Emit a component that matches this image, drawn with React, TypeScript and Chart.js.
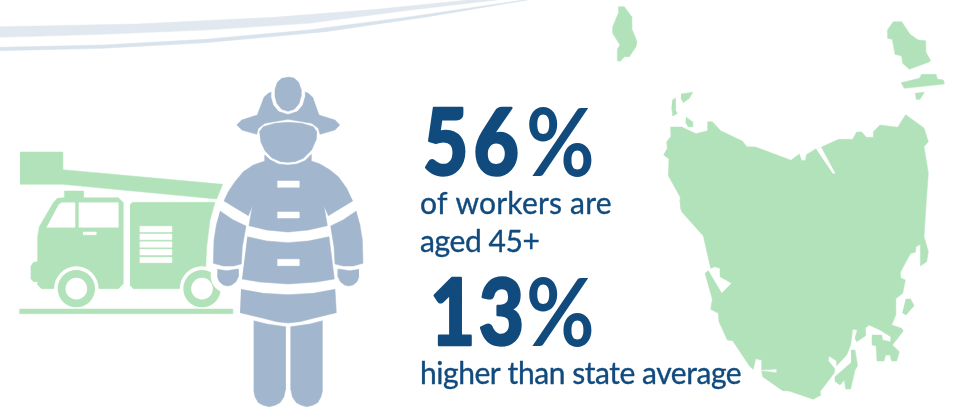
import React, { useEffect, useRef } from "react";
import { Chart, registerables } from "chart.js";

Chart.register(...registerables);

const GREEN = "#b2e2ba";
const STEEL = "#a2b7cd";
const NAVY = "#114b7e";
const WHITE = "#ffffff";

const LEFT = [0, 180];
const swooshUpper = [0,80, 410,72, 820,52, 1130,28, 1405,0, 1490,0, 1232,30, 925,70, 616,90, 308,103, 0,112];
const swooshLower = [0,142, 308,135, 616,118, 925,90, 1232,50, 1572,0, 1582,0, 1284,50, 976,95, 616,128, 308,145, 0,152];

const boom = [60,276, 188,276, 188,329, 668,373, 650,417, 188,373, 60,373];
const cab = [92,620, 100,607, 113,605, 113,530, 118,500, 160,428, 172,415, 193,413, 193,393, 250,393, 250,413, 355,413, 369,427, 369,672, 355,686, 125,686, 113,675, 113,665, 100,665, 92,655];
const cabWindowA = [140,502, 225,502, 225,428, 185,428, 175,435];
const cabWindowB = [236,428, 354,428, 354,502, 236,502];
const cabHandle = [249,516, 288,516, 288,524, 249,524];
const box = [390,435, 397,427, 645,427, 630,480, 620,560, 617,625, 617,686, 400,686, 390,676];
const vents = [
  [419,499, 515,499, 515,516, 419,516],
  [419,522, 515,522, 515,539, 419,539],
  [419,545, 515,545, 515,562, 419,562],
  [419,568, 515,568, 515,585, 419,585],
  [419,592, 515,592, 515,608, 419,608],
];
const floor = [58,747, 698,747, 698,761, 58,761];
const wheelCentres = [[229,686], [606,686]];

const helmet = [710,195, 725,180, 772,165, 792,112, 805,100, 826,92, 864,85, 905,92, 925,100, 938,112, 957,165, 1005,180, 1019,195, 1005,210, 960,223, 955,205, 935,190, 864,178, 795,190, 775,205, 770,223, 725,210];
const crestRing = [864,42, 887,46, 904,60, 912,85, 914,110, 907,135, 892,153, 864,162, 836,153, 821,135, 814,110, 816,85, 824,60, 841,46];
const crest = [864,51, 882,54, 896,67, 903,88, 903,110, 897,131, 883,148, 864,154, 845,148, 831,131, 825,110, 825,88, 832,67, 846,54];
const head = [778,215, 790,200, 825,190, 864,187, 905,190, 940,200, 950,215, 948,240, 935,270, 910,295, 885,305, 864,307, 842,305, 815,293, 795,272, 782,245];
const jacket = [795,285, 795,303, 760,315, 730,335, 705,365, 685,395, 672,423, 745,467, 757,437, 747,497, 800,510, 864,516, 925,510, 982,497, 972,437, 985,467, 1058,423, 1040,385, 1015,350, 990,330, 960,312, 934,303, 934,283, 915,302, 890,312, 864,315, 835,312, 812,300];
const buttons = [
  [832,363, 897,363, 897,382, 832,382],
  [832,456, 897,456, 897,474, 832,474],
  [832,598, 897,598, 897,617, 832,617],
];
const armLeft = [660,453, 700,480, 738,498, 727,560, 724,612, 700,618, 670,618, 640,610, 642,540, 650,490];
const armRight = [1069,453, 1029,480, 992,498, 1002,560, 1005,612, 1030,618, 1060,618, 1089,610, 1087,540, 1079,490];
const mittenLeft = [652,628, 680,632, 714,627, 715,650, 708,665, 695,675, 683,678, 670,675, 658,665, 652,650];
const mittenRight = [1077,628, 1049,632, 1015,627, 1014,650, 1021,665, 1034,675, 1046,678, 1059,675, 1071,665, 1077,650];
const torso = [742,530, 800,543, 864,548, 925,543, 987,530, 1003,657, 950,666, 864,672, 780,666, 726,657];
const skirt = [723,688, 790,700, 864,704, 940,700, 1005,688, 1009,758, 940,775, 900,785, 864,789, 830,785, 790,775, 720,758];
const legLeft = [761,782, 800,792, 856,800, 856,990, 852,1010, 840,1028, 825,1036, 808,1040, 790,1036, 775,1028, 765,1010, 761,990];
const legRight = [968,782, 930,792, 873,800, 873,990, 877,1010, 889,1028, 904,1036, 920,1040, 938,1036, 953,1028, 963,1010, 968,990];
const mittenClear = [683,648];

const NORTH = [1800, 0];
const SOUTH = [1920, 600];
const islandCoastNorth = [211,381, 245,381, 288,401, 323,392, 323,365, 337,365, 362,392, 428,424, 440,440, 467,441, 573,481, 598,462, 605,482, 617,481, 619,464, 648,446, 663,442, 716,418, 758,418, 770,396, 785,396, 799,412, 819,412, 820,395, 840,375, 893,382, 917,344, 972,384, 985,425, 972,440, 985,520];
const islandCoastSouth = [859,0, 852,110, 865,155, 860,185, 841,198, 841,133, 828,140, 826,157, 812,160, 790,200, 780,220, 781,233, 796,240, 788,280, 766,297, 767,345, 755,375, 785,385, 790,393, 757,435, 778,455, 770,483, 755,483, 750,465, 737,465, 732,483, 711,483, 708,437, 696,435, 696,405, 725,405, 728,420, 750,425, 752,410, 720,390, 687,375, 675,385, 676,408, 650,425, 645,415, 652,390, 638,388, 632,435, 620,465, 590,497, 590,483, 567,468, 565,482, 585,507, 582,520, 540,575, 543,585, 520,598, 447,573, 428,572, 368,530, 365,513, 410,518, 410,507, 365,510, 365,480, 347,476, 340,508, 330,500, 278,422, 262,420, 237,365, 235,340, 212,328, 217,297, 195,220, 205,212, 245,280, 275,250, 240,230, 240,205, 225,200, 212,205, 190,108, 125,35, 120,0];
const islandCoastWest = [243,630, 240,590, 205,527, 207,477, 191,465, 202,445, 200,425, 212,410];
const slit = [648,446, 663,442, 705,520, 698,520];
const kingIsland = [55,20, 73,20, 95,50, 95,85, 111,125, 108,140, 88,170, 73,170, 62,183, 52,183, 52,147, 60,135, 38,100, 38,80, 55,40];
const hunterIsland = [243,282, 278,277, 268,295, 250,308, 243,295];
const robbinsIsland = [217,300, 226,295, 226,330, 232,340, 218,348, 215,320];
const perkinsIsland = [258,351, 277,365, 278,380, 265,380, 257,368];
const flindersIsland = [862,90, 880,65, 905,65, 930,103, 955,120, 975,122, 977,155, 992,182, 985,187, 928,208, 908,190, 905,168, 885,163, 877,118, 862,115];
const capeBarren = [903,248, 958,235, 965,223, 1008,223, 1012,237, 1030,240, 1033,252, 912,265];
const clarkeIsland = [945,280, 973,277, 960,298, 948,298];
const schoutenIsland = [797,297, 812,297, 822,317, 798,345, 787,338];
const tasmanPeninsula = [633,450, 645,450, 653,497, 645,510, 632,567, 617,567, 613,540, 600,555, 587,545, 585,530, 633,488];

const headlineA = "56";
const headlineB = "13";
const percent = "%";
const captions = ["of workers are", "aged 45+", "higher than state average"];

const pts = (flat: number[], o: number[] = [0, 0]) => {
  const out: { x: number; y: number }[] = [];
  for (let i = 0; i < flat.length; i += 2) out.push({ x: flat[i] + o[0], y: flat[i + 1] + o[1] });
  return out;
};

const poly = (data: { x: number; y: number }[], color: string) => ({
  data,
  showLine: true,
  fill: "shape",
  backgroundColor: color,
  borderColor: color,
  borderWidth: 0.5,
  pointRadius: 0,
  tension: 0,
});

const dot = (c: number[], o: number[], color: string, radius: number) => ({
  data: pts(c, o),
  showLine: false,
  backgroundColor: color,
  borderWidth: 0,
  pointRadius: radius,
});

const textPlugin = {
  id: "infographicText",
  afterDatasetsDraw(chart: Chart) {
    const ctx = chart.ctx;
    ctx.save();
    ctx.fillStyle = NAVY;
    ctx.strokeStyle = NAVY;
    ctx.lineJoin = "round";
    ctx.textBaseline = "alphabetic";
    ctx.textAlign = "left";
    const put = (s: string, x: number, y: number, font: string, spacing = "0px", sx = 1, weight = 0) => {
      ctx.save();
      ctx.translate(x, y);
      ctx.scale(sx, 1);
      ctx.font = font;
      (ctx as any).letterSpacing = spacing;
      ctx.fillText(s, 0, 0);
      if (weight > 0) {
        ctx.lineWidth = weight;
        ctx.strokeText(s, 0, 0);
      }
      ctx.restore();
    };
    const big = "900 92px Lato";
    const pct = "700 93px Lato";
    put(headlineA, 423, 175, big, "6px", 0.85, 2.5);
    put(percent, 526, 176, pct, "0px", 0.9);
    put(headlineB, 430, 345, big, "4px", 0.85, 2.5);
    put(percent, 526, 346, pct, "0px", 0.9);
    const small = "400 30px Lato";
    put(captions[0], 420, 214, small, "0.2px", 1, 0.35);
    put(captions[1], 420, 252, small, "-0.4px", 1, 0.35);
    put(captions[2], 420, 384, small, "-0.45px", 1, 0.35);
    ctx.restore();
  },
};

export default function App() {
  const ref = useRef<HTMLCanvasElement>(null);
  useEffect(() => {
    const layers = [
      poly(pts(swooshUpper), "#e2e8ef"),
      poly(pts(swooshLower), "#d8e3ec"),
      poly(pts(boom, LEFT), GREEN),
      poly(pts(cab, LEFT), GREEN),
      poly(pts(cabWindowA, LEFT), WHITE),
      poly(pts(cabWindowB, LEFT), WHITE),
      poly(pts(cabHandle, LEFT), WHITE),
      poly(pts(box, LEFT), GREEN),
      ...vents.map((v) => poly(pts(v, LEFT), WHITE)),
      ...wheelCentres.map((c) => dot(c, LEFT, WHITE, 22.3)),
      ...wheelCentres.map((c) => dot(c, LEFT, GREEN, 18.7)),
      ...wheelCentres.map((c) => dot(c, LEFT, WHITE, 10.8)),
      poly(pts(floor, LEFT), GREEN),
      dot(mittenClear, LEFT, WHITE, 17),
      poly(pts(helmet, LEFT), STEEL),
      poly(pts(crestRing, LEFT), WHITE),
      poly(pts(crest, LEFT), STEEL),
      poly(pts(head, LEFT), STEEL),
      poly(pts(jacket, LEFT), STEEL),
      poly(pts(armLeft, LEFT), STEEL),
      poly(pts(armRight, LEFT), STEEL),
      poly(pts(mittenLeft, LEFT), STEEL),
      poly(pts(mittenRight, LEFT), STEEL),
      poly(pts(torso, LEFT), STEEL),
      poly(pts(skirt, LEFT), STEEL),
      poly(pts(legLeft, LEFT), STEEL),
      poly(pts(legRight, LEFT), STEEL),
      ...buttons.map((b) => poly(pts(b, LEFT), WHITE)),
      poly([...pts(islandCoastNorth, NORTH), ...pts(islandCoastSouth, SOUTH), ...pts(islandCoastWest, NORTH)], GREEN),
      poly(pts(slit, NORTH), WHITE),
      ...[kingIsland, hunterIsland, robbinsIsland, perkinsIsland, flindersIsland, capeBarren, clarkeIsland].map((s) => poly(pts(s, NORTH), GREEN)),
      poly(pts(schoutenIsland, SOUTH), GREEN),
      poly(pts(tasmanPeninsula, SOUTH), GREEN),
    ];
    const total = layers.length;
    const chart = new Chart(ref.current!, {
      type: "scatter",
      data: { datasets: layers.map((l, i) => ({ ...l, order: total - i })) as any },
      options: {
        animation: false,
        responsive: false,
        events: [],
        layout: { padding: 0, autoPadding: false },
        scales: {
          x: { type: "linear", display: false, min: 0, max: 2862 },
          y: { type: "linear", display: false, min: 0, max: 1251, reverse: true },
        },
        plugins: { legend: { display: false }, tooltip: { enabled: false }, title: { display: false } },
      },
      plugins: [textPlugin],
    });
    return () => chart.destroy();
  }, []);
  return (
    <div style={{ position: "absolute", left: 0, top: 0, width: 954, height: 417, background: "#fff" }}>
      <canvas ref={ref} width={954} height={417} style={{ display: "block" }} />
    </div>
  );
}
